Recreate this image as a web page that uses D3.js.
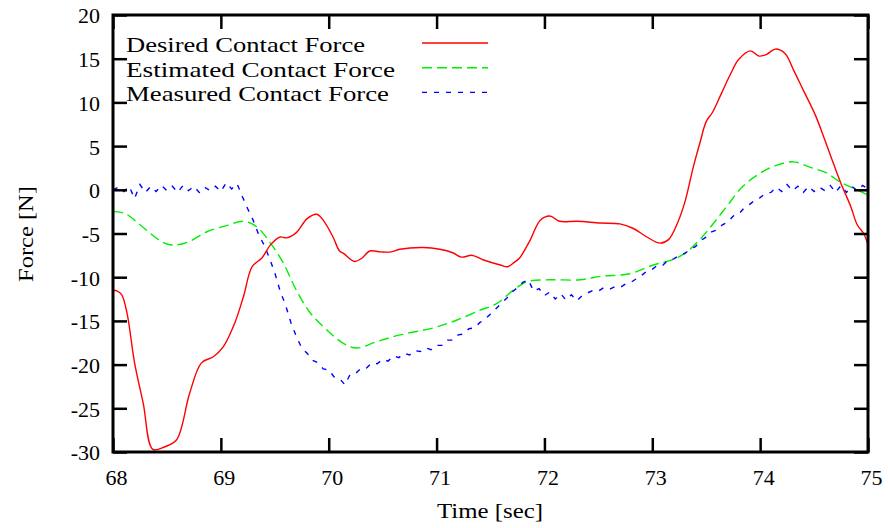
<!DOCTYPE html>
<html>
<head>
<meta charset="utf-8">
<script src="https://cdn.jsdelivr.net/npm/d3@7"></script>
<style>
  html, body { margin: 0; padding: 0; background: #fff; }
  svg { display: block; }
  text { font-family: "Liberation Serif", "Times New Roman", serif; fill: #000; }
</style>
</head>
<body>
<svg id="chart" width="888" height="528"></svg>
<script>
// ---- data ----
const xTicks = [68, 69, 70, 71, 72, 73, 74, 75];
const yTicks = [20, 15, 10, 5, 0, -5, -10, -15, -20, -25, -30];
const seriesNames = ["Desired Contact Force", "Estimated Contact Force", "Measured Contact Force"];

const desiredT = [68.00,68.04,68.08,68.13,68.20,68.28,68.37,68.48,68.59,68.71,68.82,68.93,69.02,69.13,69.21,69.29,69.38,69.46,69.55,69.61,69.70,69.80,69.89,69.95,70.04,70.10,70.14,70.24,70.31,70.38,70.48,70.58,70.66,70.88,71.03,71.15,71.23,71.33,71.43,71.59,71.66,71.72,71.77,71.87,71.96,72.05,72.14,72.30,72.52,72.70,72.82,72.95,73.07,73.15,73.22,73.30,73.38,73.44,73.50,73.56,73.64,73.72,73.80,73.91,73.99,74.06,74.14,74.23,74.31,74.40,74.51,74.60,74.68,74.76,74.84,74.90,74.96,75.00];
const desiredF = [-11.5,-11.6,-12.0,-14.1,-19.8,-24.4,-29.7,-29.4,-28.6,-23.3,-19.8,-19.1,-18.0,-15.2,-12.2,-8.8,-7.8,-6.3,-5.4,-5.5,-4.9,-3.3,-2.8,-3.5,-5.4,-7.0,-7.3,-8.2,-7.8,-7.0,-7.1,-7.1,-6.8,-6.6,-6.8,-7.2,-7.7,-7.5,-8.0,-8.6,-8.8,-8.3,-7.8,-5.7,-3.5,-3.0,-3.6,-3.6,-3.8,-3.9,-4.4,-5.4,-6.1,-5.7,-4.2,-1.5,2.6,5.3,7.8,8.9,11.0,13.1,14.9,15.9,15.3,15.5,16.1,15.6,13.7,11.4,8.6,5.7,3.0,0.4,-1.9,-4.0,-5.0,-6.3];

const estimatedT = [68.00,68.11,68.25,68.41,68.50,68.59,68.71,68.87,69.05,69.21,69.33,69.46,69.58,69.70,69.83,69.98,70.14,70.26,70.44,70.66,70.97,71.19,71.40,71.56,71.71,71.84,72.05,72.33,72.52,72.79,73.01,73.19,73.32,73.44,73.57,73.69,73.84,74.00,74.15,74.31,74.46,74.62,74.74,74.86,75.00];
const estimatedF = [-2.5,-2.7,-4.0,-5.6,-6.2,-6.3,-5.9,-4.8,-4.1,-3.6,-4.2,-6.1,-8.4,-11.5,-14.1,-16.0,-17.6,-18.1,-17.4,-16.6,-15.8,-14.9,-13.8,-13.0,-11.5,-10.5,-10.3,-10.3,-9.9,-9.6,-8.6,-8.0,-7.1,-5.7,-3.8,-1.9,0.4,1.9,2.8,3.2,2.6,1.9,0.9,0.2,-0.6];

// measured force sampled every 0.05 s from 68.00 to 75.00
const measuredStart = 68.0, measuredStep = 0.05;
const measuredF = [0.0,0.3,-0.2,0.4,-1.0,0.6,-0.3,0.4,-0.2,0.5,-0.1,0.4,-0.3,0.5,-0.1,0.4,-0.3,0.3,-0.1,0.4,-0.2,0.8,0.1,0.7,-0.8,-2.2,-3.5,-5.1,-6.3,-7.8,-9.5,-11.6,-13.2,-15.2,-16.8,-18.1,-18.7,-19.5,-19.8,-20.5,-20.6,-21.4,-21.6,-22.3,-21.1,-21.0,-20.4,-20.4,-19.8,-19.9,-19.4,-19.6,-19.0,-19.2,-18.7,-18.9,-18.4,-18.5,-18.1,-18.3,-17.8,-17.8,-17.2,-17.2,-16.6,-16.5,-15.9,-15.8,-15.2,-14.8,-14.2,-13.6,-13.0,-12.4,-11.7,-11.2,-10.6,-10.3,-11.6,-11.3,-12.1,-11.7,-12.5,-11.9,-12.6,-12.0,-12.7,-12.1,-11.8,-11.5,-11.6,-11.2,-11.4,-11.1,-11.2,-10.8,-10.6,-10.2,-9.8,-9.3,-9.1,-8.6,-8.6,-8.0,-7.9,-7.5,-7.3,-6.8,-6.5,-5.8,-5.4,-4.8,-4.6,-4.0,-3.7,-3.0,-2.8,-2.1,-1.7,-1.2,-0.9,-0.4,-0.3,0.3,-0.2,0.6,-0.1,0.4,-0.3,0.4,-0.2,0.3,-0.1,0.5,-0.3,0.5,-0.3,0.4,-0.1,0.5,0.1];

// ---- chart ----
const svg = d3.select("#chart");
const L = 113, R = 868, T = 15, B = 452;
const x = d3.scaleLinear().domain([68, 75]).range([L, R]);
const y = d3.scaleLinear().domain([-30, 20]).range([B, T]);
const FS = 22;
const fmt = d => String(d);

const desired = desiredT.map((t, i) => [t, desiredF[i]]);
const estimated = estimatedT.map((t, i) => [t, estimatedF[i]]);
const measured = measuredF.map((f, i) => [measuredStart + i * measuredStep, f]);

svg.append("defs").append("clipPath").attr("id", "clip")
  .append("rect").attr("x", L).attr("y", T).attr("width", R - L).attr("height", B - T);

const line = d3.line().x(d => x(d[0])).y(d => y(d[1]));
const smooth = d3.line().x(d => x(d[0])).y(d => y(d[1])).curve(d3.curveCatmullRom.alpha(0.5));

const plot = svg.append("g").attr("clip-path", "url(#clip)");
plot.append("path").datum(estimated).attr("d", smooth)
  .attr("fill", "none").attr("stroke", "#00ee00").attr("stroke-width", 1.4)
  .attr("stroke-dasharray", "10,5");
plot.append("path").datum(measured).attr("d", line)
  .attr("fill", "none").attr("stroke", "#0000ff").attr("stroke-width", 1.4)
  .attr("stroke-dasharray", "5,7");
plot.append("path").datum(desired).attr("d", smooth)
  .attr("fill", "none").attr("stroke", "#ff0000").attr("stroke-width", 1.4);

// axes with inward ticks
function styleAxis(g) {
  g.select(".domain").remove();
  g.selectAll(".tick line").attr("stroke", "#000").attr("stroke-width", 2.5);
  g.selectAll(".tick text").attr("font-family", "Liberation Serif, serif").attr("font-size", FS).attr("fill", "#000");
}
svg.append("g").attr("transform", `translate(0,${B})`)
  .call(d3.axisBottom(x).tickValues(xTicks).tickSize(-14).tickPadding(0).tickFormat(fmt))
  .call(styleAxis)
  .call(g => g.selectAll(".tick text").attr("dy", null).attr("y", 33).attr("dx", 3));
svg.append("g").attr("transform", `translate(0,${T})`)
  .call(d3.axisTop(x).tickValues(xTicks).tickSize(-14).tickFormat(""))
  .call(styleAxis);
svg.append("g").attr("transform", `translate(${L},0)`)
  .call(d3.axisLeft(y).tickValues(yTicks).tickSize(-14).tickPadding(13).tickFormat(fmt))
  .call(styleAxis)
  .call(g => g.selectAll(".tick text").attr("dy", "0.36em"));
svg.append("g").attr("transform", `translate(${R},0)`)
  .call(d3.axisRight(y).tickValues(yTicks).tickSize(-14).tickFormat(""))
  .call(styleAxis);

// frame
svg.append("rect").attr("x", L).attr("y", T).attr("width", R - L).attr("height", B - T)
  .attr("fill", "none").attr("stroke", "#000").attr("stroke-width", 3);

// axis titles
svg.append("text").attr("x", 490).attr("y", 518).attr("text-anchor", "middle")
  .attr("font-size", FS).attr("textLength", 106).attr("lengthAdjust", "spacingAndGlyphs")
  .text("Time [sec]");
svg.append("text").attr("transform", "translate(33,234) rotate(-90)").attr("text-anchor", "middle")
  .attr("font-size", FS).attr("textLength", 96).attr("lengthAdjust", "spacingAndGlyphs")
  .text("Force [N]");

// legend
const legendColors = ["#ff0000", "#00ee00", "#0000ff"];
const legendDash = [null, "10,5", "5,7"];
const legendLen = [239, 269, 263];
const legendBase = [52, 76.7, 101.4];
seriesNames.forEach((name, i) => {
  svg.append("text").attr("x", 126).attr("y", legendBase[i]).attr("font-size", FS)
    .attr("textLength", legendLen[i]).attr("lengthAdjust", "spacingAndGlyphs").text(name);
  svg.append("line").attr("x1", 422).attr("x2", 488)
    .attr("y1", legendBase[i] - 9).attr("y2", legendBase[i] - 9)
    .attr("stroke", legendColors[i]).attr("stroke-width", 1.4)
    .attr("stroke-dasharray", legendDash[i]);
});
</script>
</body>
</html>
